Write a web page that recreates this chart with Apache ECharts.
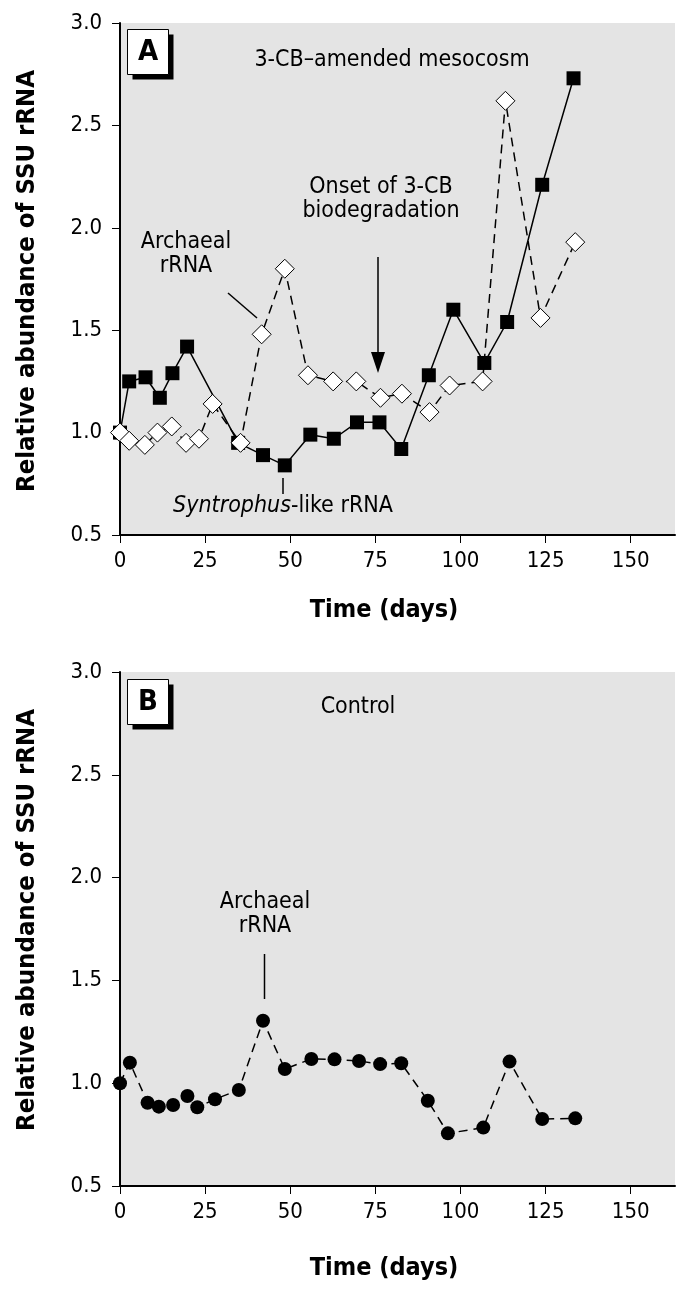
<!DOCTYPE html>
<html><head><meta charset="utf-8">
<script src="https://cdn.jsdelivr.net/npm/echarts@6/dist/echarts.min.js"></script>
<style>html,body{margin:0;padding:0;background:#fff}#c{width:680px;height:1294px}</style>
</head><body><div id="c"></div>
<script>
// ---- data ----
const xTicks = [0, 25, 50, 75, 100, 125, 150];
const yTicks = [0.5, 1.0, 1.5, 2.0, 2.5, 3.0];

const synDaysA = [0, 2.7, 7.5, 11.7, 15.4, 19.7, 34.7, 42, 48.4, 55.9, 62.8, 69.6, 76.2, 82.6, 90.7, 97.9, 107, 113.7, 124, 133.2];
const synValsA = [1.0, 1.25, 1.27, 1.17, 1.29, 1.42, 0.95, 0.89, 0.84, 0.99, 0.97, 1.05, 1.05, 0.92, 1.28, 1.60, 1.34, 1.54, 2.21, 2.73];

const archDaysA = [0, 2.7, 7.3, 11, 15.2, 19.4, 23.2, 27.2, 35.4, 41.6, 48.4, 55.2, 62.6, 69.4, 76.5, 82.8, 90.9, 96.8, 106.5, 113.2, 123.5, 133.7];
const archValsA = [1.0, 0.96, 0.94, 1.0, 1.03, 0.95, 0.97, 1.14, 0.95, 1.48, 1.80, 1.28, 1.25, 1.25, 1.17, 1.19, 1.10, 1.23, 1.25, 2.62, 1.56, 1.93];

const archDaysB = [0, 2.9, 8.1, 11.4, 15.6, 19.8, 22.7, 27.9, 34.9, 42, 48.4, 56.2, 63, 70.2, 76.4, 82.6, 90.4, 96.3, 106.7, 114.4, 124, 133.7];
const archValsB = [1.0, 1.10, 0.905, 0.886, 0.894, 0.938, 0.883, 0.922, 0.967, 1.304, 1.069, 1.118, 1.116, 1.108, 1.093, 1.097, 0.915, 0.756, 0.784, 1.105, 0.826, 0.829];

const xTitle = 'Time (days)';
const yTitle = 'Relative abundance of SSU rRNA';

const FONT = "'Liberation Sans Narrow', 'DejaVu Sans Condensed', 'Roboto Condensed', Roboto, sans-serif";
const pair = (xs, ys) => xs.map((x, i) => [x, ys[i]]);

function xAxisCfg(gi) {
  return {
    gridIndex: gi, type: 'value', min: 0, max: 163, interval: 25,
    axisLine: { show: true, onZero: false, lineStyle: { color: '#000', width: 2 } },
    axisTick: { show: true, length: 8, customValues: xTicks, lineStyle: { color: '#000', width: 1 } },
    axisLabel: { customValues: xTicks, margin: 15, fontFamily: FONT, fontSize: 22, color: '#000' },
    splitLine: { show: false }
  };
}
function yAxisCfg(gi) {
  return {
    gridIndex: gi, type: 'value', min: 0.5, max: 3.0, interval: 0.5,
    axisLine: { show: true, onZero: false, lineStyle: { color: '#000', width: 2 } },
    axisTick: { show: true, length: 8, lineStyle: { color: '#000', width: 1 } },
    axisLabel: { margin: 18, fontFamily: FONT, fontSize: 22, color: '#000', formatter: v => v.toFixed(1) },
    splitLine: { show: false }
  };
}

function labelBox(x, y, letter) {
  return [
    { type: 'rect', shape: { x: x + 5, y: y + 5, width: 41, height: 45 }, style: { fill: '#000' }, z: 100 },
    { type: 'rect', shape: { x: x, y: y, width: 41, height: 45 }, style: { fill: '#fff', stroke: '#000', lineWidth: 1 }, z: 101 },
    { type: 'text', x: x + 20.5, y: y + 23, style: { text: letter, font: "bold 29px " + FONT, fill: '#000', align: 'center', verticalAlign: 'middle' }, z: 102 }
  ];
}
function txt(x, y, t, size, extra) {
  return Object.assign({ type: 'text', x: x, y: y, z: 100,
    style: { text: t, font: (size || 22) + "px " + FONT, fill: '#000', align: 'center', verticalAlign: 'middle' } }, extra || {});
}
function boldTxt(x, y, t, size, rot) {
  return { type: 'text', x: x, y: y, z: 100, rotation: rot || 0,
    style: { text: t, font: "bold " + size + "px " + FONT, fill: '#000', align: 'center', verticalAlign: 'middle' } };
}
function line(x1, y1, x2, y2) {
  return { type: 'line', z: 100, shape: { x1, y1, x2, y2 }, style: { stroke: '#000', lineWidth: 1.5 } };
}

const chart = echarts.init(document.getElementById('c'), null, { renderer: 'canvas' });
chart.setOption({
  animation: false,
  backgroundColor: '#fff',
  grid: [
    { left: 120, top: 23, width: 555, height: 512, show: true, backgroundColor: '#e4e4e4', borderWidth: 0 },
    { left: 120, top: 672, width: 555, height: 514, show: true, backgroundColor: '#e4e4e4', borderWidth: 0 }
  ],
  xAxis: [xAxisCfg(0), xAxisCfg(1)],
  yAxis: [yAxisCfg(0), yAxisCfg(1)],
  series: [
    { type: 'line', xAxisIndex: 0, yAxisIndex: 0, data: pair(synDaysA, synValsA),
      symbol: 'rect', symbolSize: 14, itemStyle: { color: '#000' },
      lineStyle: { color: '#000', width: 1.5 }, z: 2 },
    { type: 'line', xAxisIndex: 0, yAxisIndex: 0, data: pair(archDaysA, archValsA),
      symbol: 'diamond', symbolSize: 19, itemStyle: { color: '#fff', borderColor: '#000', borderWidth: 1 },
      lineStyle: { color: '#000', width: 1.5, type: [9, 6] }, z: 3 },
    { type: 'line', xAxisIndex: 1, yAxisIndex: 1, data: pair(archDaysB, archValsB),
      symbol: 'circle', symbolSize: 14, itemStyle: { color: '#000' },
      lineStyle: { color: '#000', width: 1.5, type: [9, 6] }, z: 2 }
  ],
  graphic: [].concat(
    labelBox(127.5, 29.5, 'A'),
    labelBox(127.5, 679.5, 'B'),
    [
      boldTxt(384, 610, xTitle, 25),
      boldTxt(384, 1268, xTitle, 25),
      boldTxt(27, 281, yTitle, 25.5, Math.PI / 2),
      boldTxt(27, 920, yTitle, 25.5, Math.PI / 2),
      txt(392, 60, '3-CB\u2013amended mesocosm', 23),
      txt(381, 187, 'Onset of 3-CB', 23),
      txt(381, 211, 'biodegradation', 23),
      line(378, 257, 378, 358),
      { type: 'polygon', z: 100, shape: { points: [[371, 352], [385, 352], [378, 373]] }, style: { fill: '#000' } },
      txt(186, 242, 'Archaeal', 23),
      txt(186, 266, 'rRNA', 23),
      line(228, 293, 257, 318),
      { type: 'text', z: 100, x: 283, y: 506, style: { rich: {
          i: { font: "italic 23px " + FONT, fill: '#000' },
          n: { font: "23px " + FONT, fill: '#000' } },
          text: '{i|Syntrophus}{n|-like rRNA}', align: 'center', verticalAlign: 'middle' } },
      line(283, 478, 283, 494),
      txt(358, 707, 'Control', 23),
      txt(265, 902, 'Archaeal', 23),
      txt(265, 926, 'rRNA', 23),
      line(264.5, 954, 264.5, 999)
    ]
  )
});
</script></body></html>
